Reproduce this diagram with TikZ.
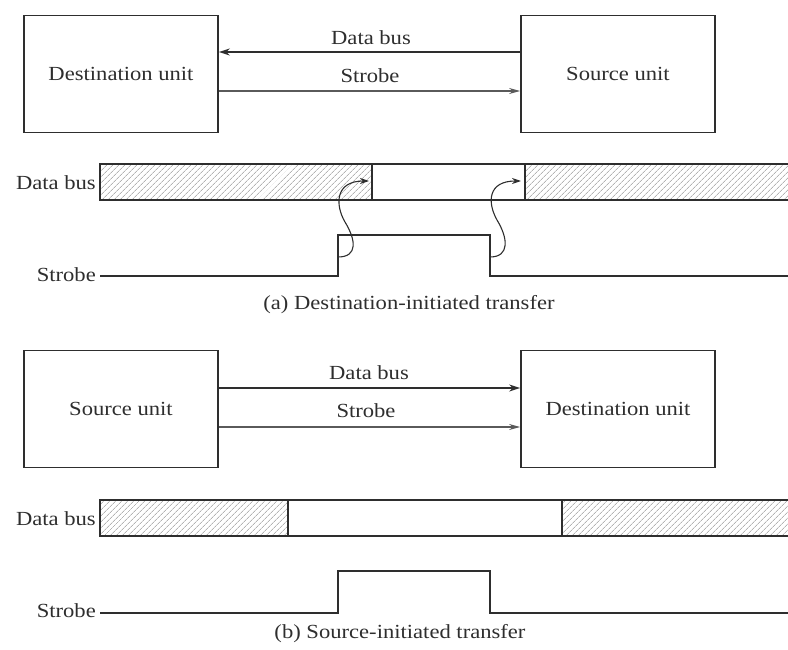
\documentclass[tikz,border=0pt]{standalone}
\usepackage{fontspec}
\setmainfont{Liberation Serif}[FakeStretch=1.13]
\usetikzlibrary{arrows.meta,patterns.meta}
\definecolor{ink}{HTML}{2E2E2E}
\definecolor{inksoft}{HTML}{5A5A5A}
\definecolor{hatch}{HTML}{8A8A8A}
\tikzset{
  unitbox/.style={draw=ink,line width=1.8pt,minimum width=194pt,minimum height=117pt,
    inner sep=0pt,font=\fontsize{20}{24}\selectfont,text=ink},
  busarrow/.style={draw=ink,line width=1.7pt,-{Stealth[length=11pt,width=7pt]}},
  strobearrow/.style={draw=inksoft,line width=1.1pt,-{Stealth[length=11pt,width=6pt]}},
  lbl/.style={font=\fontsize{20}{24}\selectfont,text=ink,inner sep=0pt},
  wave/.style={draw=ink,line width=1.6pt},
  hatched/.style={pattern={Lines[angle=45,distance=4pt,line width=0.6pt]},pattern color=hatch},
  cause/.style={draw=ink,line width=1.1pt,-{Stealth[length=9pt,width=6pt]}},
}
\begin{document}
\begin{tikzpicture}[x=1pt,y=-1pt]
\useasboundingbox (0,0) rectangle (788,650);

% ---------- (a) destination-initiated ----------
\node[unitbox] (dstA) at (121,74) {Destination unit};
\node[unitbox] (srcA) at (618,74) {Source unit};
\draw[busarrow] ([yshift=22pt]srcA.west) -- ([yshift=22pt]dstA.east);
\draw[strobearrow] ([yshift=-17pt]dstA.east) -- ([yshift=-17pt]srcA.west);
\node[lbl] (dbA) at (371,38) {Data bus};
\node[lbl] (stA) at (370,76) {Strobe};

% data bus waveform
\fill[hatched] (100,164) rectangle (372,200);
\fill[hatched] (525,164) rectangle (788,200);
\draw[wave] (788,164) -- (100,164) -- (100,200) -- (788,200);
\draw[wave] (372,164) -- (372,200);
\draw[wave] (525,164) -- (525,200);
\node[lbl,anchor=east] (dbwA) at (96,183) {Data bus};

% strobe waveform
\coordinate (riseA) at (338,257);
\coordinate (fallA) at (490,257);
\draw[wave] (100,276) -- (338,276) -- (338,235) -- (490,235) -- (490,276) -- (788,276);
\node[lbl,anchor=east] (stwA) at (96,275) {Strobe};

% cause-effect arrows
\coordinate (validA) at (369,181);
\coordinate (dropA) at (521,181);
\draw[cause] (riseA) .. controls (358,257) and (356,240) .. (345,222)
  .. controls (335,205) and (335,181) .. (validA);
\draw[cause] (fallA) .. controls (510,257) and (508,238) .. (497,220)
  .. controls (487,202) and (488,181) .. (dropA);

\node[lbl] (capA) at (409,305) {(a) Destination-initiated transfer};

% ---------- (b) source-initiated ----------
\node[unitbox] (srcB) at (121,409) {Source unit};
\node[unitbox] (dstB) at (618,409) {Destination unit};
\draw[busarrow] ([yshift=21pt]srcB.east) -- ([yshift=21pt]dstB.west);
\draw[strobearrow] ([yshift=-18pt]srcB.east) -- ([yshift=-18pt]dstB.west);
\node[lbl] (dbB) at (369,373) {Data bus};
\node[lbl] (stB) at (366,411) {Strobe};

% data bus waveform
\fill[hatched] (100,500) rectangle (288,536);
\fill[hatched] (562,500) rectangle (788,536);
\draw[wave] (788,500) -- (100,500) -- (100,536) -- (788,536);
\draw[wave] (288,500) -- (288,536);
\draw[wave] (562,500) -- (562,536);
\node[lbl,anchor=east] (dbwB) at (96,519) {Data bus};

% strobe waveform
\draw[wave] (100,613) -- (338,613) -- (338,571) -- (490,571) -- (490,613) -- (788,613);
\node[lbl,anchor=east] (stwB) at (96,611) {Strobe};

\node[lbl] (capB) at (400,634) {(b) Source-initiated transfer};
\end{tikzpicture}
\end{document}
